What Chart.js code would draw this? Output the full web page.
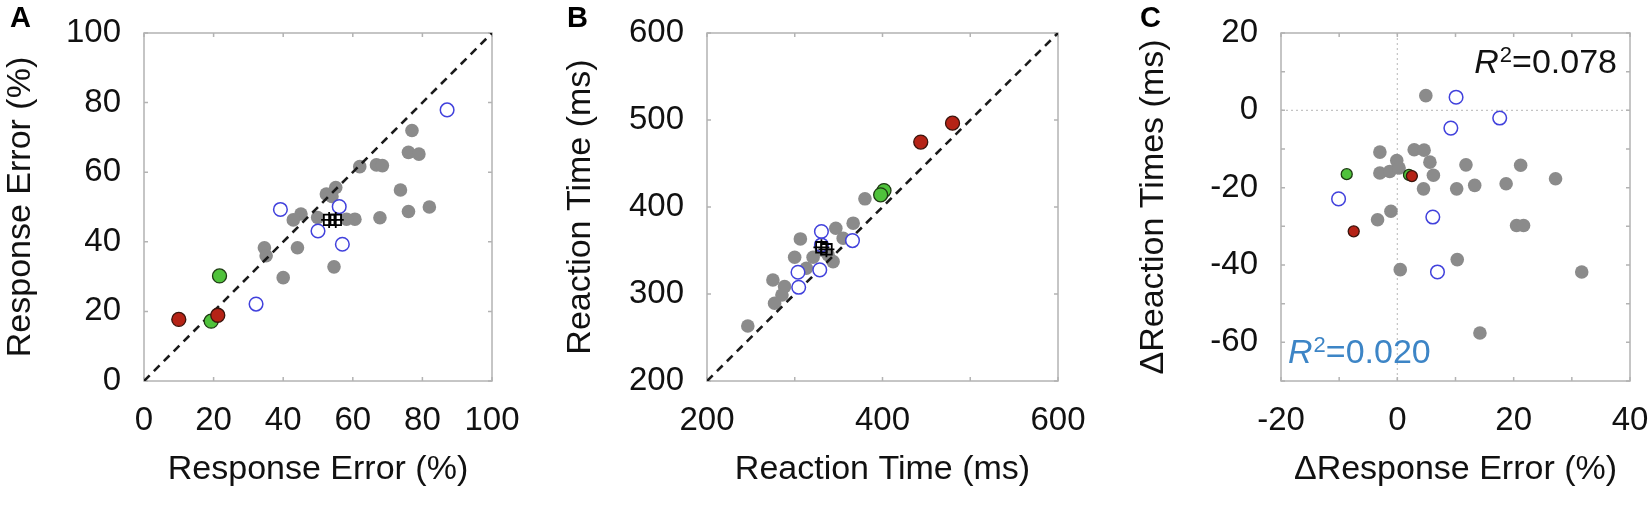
<!DOCTYPE html>
<html><head><meta charset="utf-8">
<script src="https://cdn.jsdelivr.net/npm/chart.js@4.4.1/dist/chart.umd.min.js"></script>
<style>
html,body{margin:0;padding:0;background:#fff;}
body{width:1650px;height:505px;position:relative;overflow:hidden;}
canvas{position:absolute;top:0;}
</style></head><body>
<canvas id="cA" width="560" height="505" style="left:0px;width:560px;height:505px"></canvas>
<canvas id="cB" width="540" height="505" style="left:560px;width:540px;height:505px"></canvas>
<canvas id="cC" width="550" height="505" style="left:1100px;width:550px;height:505px"></canvas>
<script>
// ---------- Panel A: Response Error (%) ----------
const aGrayX = [77,76,79,62,66.8,68.5,55.1,52.4,54,73.7,82,76,67.8,60.6,58.2,45.1,42.9,49.9,34.6,35.1,44.1,40,54.6];
const aGrayY = [72,65.7,65.2,61.6,62.1,61.9,55.6,53.7,53,54.9,50,48.7,46.9,46.5,46.5,48,46.3,47,38.3,36,38.3,29.7,32.8];
const aBlueX = [87.1,39.2,56.1,50,57,32.2];
const aBlueY = [77.9,49.3,50.1,43.1,39.3,22.1];
const aRedX = [10,21.2];
const aRedY = [17.7,18.9];
const aGreenX = [21.7,19.3];
const aGreenY = [30.2,17.2];
const aMeanX = [53.2,55.1];
const aMeanY = [46.3,46.3];
const aTicks = [0,20,40,60,80,100];

// ---------- Panel B: Reaction Time (ms) ----------
const bGrayX = [380,366.6,346.8,355.2,306.4,299.9,320.9,343.7,275.1,288.4,285.4,277,246.5,330.4,313.2,338];
const bGrayY = [409.4,381.4,375.6,364.1,363.3,342.2,342.2,337.2,316.1,308.5,298.9,289.3,263.2,350.7,329.6,345];
const bBlueX = [330.4,330.4,365.8,303.7,328.5,304.5];
const bBlueY = [371.8,356.4,361.4,325,327.7,307.7];
const bRedX = [479.8,443.6];
const bRedY = [496.4,474.6];
const bGreenX = [401.7,397.9];
const bGreenY = [418.9,414];
const bMeanX = [330.4,336.1];
const bMeanY = [353.7,351.4];
const bXTicks = [200,300,400,500,600];
const bXLabels = [200,400,600];
const bYTicks = [200,300,400,500,600];

// ---------- Panel C: differences ----------
const cGrayX = [4.9,-3,-3,-1.3,-0.1,0.3,2.9,4.6,5.6,6.2,4.5,10.2,11.8,13.3,18.7,21.2,-3.4,-1.1,0.5,10.3,14.2,20.5,21.7,27.2,31.7];
const cGrayY = [3.8,-10.8,-16.2,-15.8,-13,-14.9,-10.2,-10.3,-13.4,-16.8,-20.3,-20.3,-14.1,-19.4,-19,-14.2,-28.3,-26.1,-41.2,-38.6,-57.6,-29.8,-29.8,-17.7,-41.8];
const cBlueX = [-10.1,6.1,6.9,10.1,9.2,17.6];
const cBlueY = [-22.9,-27.6,-41.8,3.4,-4.6,-2];
const cRedX = [-7.5,2.5];
const cRedY = [-31.3,-17];
const cGreenX = [-8.7,2];
const cGreenY = [-16.5,-16.7];
const cXTicks = [-20,-10,0,10,20,30,40];
const cXLabels = [-20,0,20,40];
const cYTicks = [-70,-60,-50,-40,-30,-20,-10,0,10,20];
const cYLabels = [20,0,-20,-40,-60];
const cR2All = '0.078';
const cR2Blue = '0.020';

// ---------- styling ----------
const FONT = "'Liberation Sans', Arial, Helvetica, sans-serif";
Chart.defaults.font.family = FONT;
const TICK_FONT = {size: 33, family: FONT};
const TITLE_FONT = {size: 34, family: FONT};
const H = 505;

const zip = (xs, ys) => xs.map((x, i) => ({x, y: ys[i]}));

function drawR2(ctx, x, baseline, val, color, align) {
  ctx.save();
  ctx.fillStyle = color;
  ctx.textBaseline = 'alphabetic';
  ctx.textAlign = 'left';
  const fR = 'italic 34px ' + FONT, fS = '22px ' + FONT, fN = '34px ' + FONT;
  ctx.font = fR; const wR = ctx.measureText('R').width;
  ctx.font = fS; const wS = ctx.measureText('2').width;
  ctx.font = fN; const wN = ctx.measureText('=' + val).width;
  const total = wR + wS + wN + 1;
  let sx = align === 'right' ? x - total : x;
  ctx.font = fR; ctx.fillText('R', sx, baseline); sx += wR + 1;
  ctx.font = fS; ctx.fillText('2', sx, baseline - 11); sx += wS;
  ctx.font = fN; ctx.fillText('=' + val, sx, baseline);
  ctx.restore();
}

const framePlugin = {
  id: 'frame',
  beforeDatasetsDraw(chart, args, o) {
    const {ctx, chartArea: a, scales: {x, y}} = chart;
    ctx.save();
    if (o.zero) {
      ctx.strokeStyle = '#c4c4c4'; ctx.lineWidth = 1.2; ctx.setLineDash([2, 3]);
      const px = x.getPixelForValue(0), py = y.getPixelForValue(0);
      ctx.beginPath(); ctx.moveTo(px, a.top); ctx.lineTo(px, a.bottom); ctx.stroke();
      ctx.beginPath(); ctx.moveTo(a.left, py); ctx.lineTo(a.right, py); ctx.stroke();
      ctx.setLineDash([]);
    }
    ctx.strokeStyle = '#b3b3b3'; ctx.lineWidth = 1.5;
    ctx.strokeRect(a.left, a.top, a.right - a.left, a.bottom - a.top);
    const L = 4;
    ctx.beginPath();
    x.ticks.forEach(t => { const p = x.getPixelForValue(t.value);
      ctx.moveTo(p, a.bottom); ctx.lineTo(p, a.bottom - L);
      ctx.moveTo(p, a.top); ctx.lineTo(p, a.top + L); });
    y.ticks.forEach(t => { const p = y.getPixelForValue(t.value);
      ctx.moveTo(a.left, p); ctx.lineTo(a.left + L, p);
      ctx.moveTo(a.right, p); ctx.lineTo(a.right - L, p); });
    ctx.stroke();
    ctx.restore();
  },
  afterDraw(chart, args, o) {
    const {ctx, chartArea: a} = chart;
    ctx.save();
    ctx.fillStyle = '#000';
    ctx.font = 'bold 29px ' + FONT;
    ctx.textBaseline = 'alphabetic';
    ctx.fillText(o.letter, o.letterX, 27);
    ctx.restore();
    if (o.r2) {
      drawR2(ctx, a.right - 13, a.top + 40, cR2All, '#111', 'right');
      drawR2(ctx, a.left + 7, a.bottom - 18, cR2Blue, '#3d85c6', 'left');
    }
  }
};

function makeDatasets(gray, blue, red, green, mean, diag, small) {
  const ds = [];
  const cr = small ? 5.5 : 7;
  if (mean) {
    ds.push({data: mean, pointStyle: 'cross', pointRadius: 8, borderColor: '#000', borderWidth: 1.8, backgroundColor: '#000'});
    ds.push({data: mean, pointStyle: 'rect', pointRadius: 7.5, borderColor: '#000', borderWidth: 1.8, backgroundColor: 'rgba(0,0,0,0)'});
  }
  ds.push({data: red, pointRadius: cr, backgroundColor: '#b52316', borderColor: '#3a140c', borderWidth: 1.3});
  ds.push({data: green, pointRadius: cr, backgroundColor: '#4fc23b', borderColor: '#1d3a12', borderWidth: 1.3});
  ds.push({data: blue, pointRadius: 6.8, backgroundColor: '#ffffff', borderColor: '#4141dc', borderWidth: 1.5});
  if (diag) {
    ds.push({data: diag, showLine: true, pointRadius: 0, borderColor: '#1a1a1a', borderWidth: 2.6, borderDash: [8, 6]});
  }
  ds.push({data: gray, pointRadius: 6.8, backgroundColor: '#8b8b8b', borderWidth: 0});
  return ds;
}

function axis(ticksArr, labels, titleText, isX, area, titlePad) {
  return {
    type: 'linear',
    position: isX ? 'bottom' : 'left',
    min: ticksArr[0], max: ticksArr[ticksArr.length - 1],
    grid: {display: false, drawTicks: false},
    border: {display: false},
    afterBuildTicks: s => { s.ticks = ticksArr.map(v => ({value: v})); },
    afterFit: s => {
      if (isX) s.height = H - area.B; else s.width = area.L;
      s.paddingTop = 0; s.paddingBottom = 0; s.paddingLeft = 0; s.paddingRight = 0;
    },
    ticks: {
      autoSkip: false, maxRotation: 0, minRotation: 0,
      padding: isX ? 20 : 23,
      color: '#111', font: TICK_FONT,
      callback: v => labels.includes(v) ? String(v) : ''
    },
    title: {display: true, text: titleText, color: '#111', font: TITLE_FONT,
      padding: isX ? {top: 0, bottom: 15} : {top: titlePad, bottom: 0}}
  };
}

function makeChart(id, W, area, datasets, xs, ys, plug) {
  return new Chart(document.getElementById(id), {
    type: 'scatter',
    data: {datasets},
    options: {
      responsive: false, animation: false, devicePixelRatio: 1,
      layout: {padding: {left: 0, top: area.T, right: W - area.R, bottom: 0}},
      plugins: {legend: {display: false}, tooltip: {enabled: false}, frame: plug},
      scales: {x: xs, y: ys}
    },
    plugins: [framePlugin]
  });
}

// Panel A
const areaA = {L: 144, R: 492, T: 33, B: 381};
makeChart('cA', 560, areaA,
  makeDatasets(zip(aGrayX, aGrayY), zip(aBlueX, aBlueY), zip(aRedX, aRedY), zip(aGreenX, aGreenY), zip(aMeanX, aMeanY),
    [{x: aTicks[0], y: aTicks[0]}, {x: aTicks[aTicks.length - 1], y: aTicks[aTicks.length - 1]}], false),
  axis(aTicks, aTicks, 'Response Error (%)', true, areaA, 0),
  axis(aTicks, aTicks, 'Response Error (%)', false, areaA, 0),
  {letter: 'A', letterX: 10});

// Panel B
const areaB = {L: 147, R: 498, T: 33, B: 381};
makeChart('cB', 540, areaB,
  makeDatasets(zip(bGrayX, bGrayY), zip(bBlueX, bBlueY), zip(bRedX, bRedY), zip(bGreenX, bGreenY), zip(bMeanX, bMeanY),
    [{x: bXTicks[0], y: bYTicks[0]}, {x: bXTicks[bXTicks.length - 1], y: bYTicks[bYTicks.length - 1]}], false),
  axis(bXTicks, bXLabels, 'Reaction Time (ms)', true, areaB, 0),
  axis(bYTicks, bYTicks, 'Reaction Time (ms)', false, areaB, 0),
  {letter: 'B', letterX: 7});

// Panel C
const areaC = {L: 181, R: 530, T: 33, B: 381};
makeChart('cC', 550, areaC,
  makeDatasets(zip(cGrayX, cGrayY), zip(cBlueX, cBlueY), zip(cRedX, cRedY), zip(cGreenX, cGreenY), null, null, true),
  axis(cXTicks, cXLabels, '\u0394Response Error (%)', true, areaC, 0),
  axis(cYTicks, cYLabels, '\u0394Reaction Times (ms)', false, areaC, 33),
  {letter: 'C', letterX: 40, zero: true, r2: true});
</script>
</body></html>
